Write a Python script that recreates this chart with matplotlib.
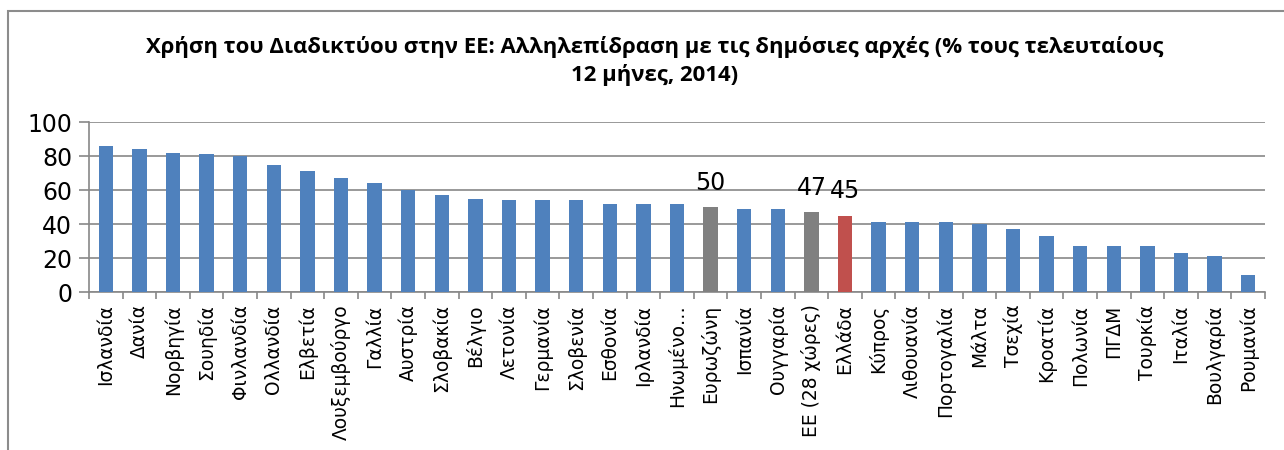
import numpy as np
import matplotlib
matplotlib.use("Agg")
import matplotlib.pyplot as plt
from matplotlib.patches import Rectangle
from matplotlib.ticker import FixedLocator

countries = [
    "Ισλανδία", "Δανία", "Νορβηγία", "Σουηδία", "Φινλανδία", "Ολλανδία",
    "Ελβετία", "Λουξεμβούργο", "Γαλλία", "Αυστρία", "Σλοβακία", "Βέλγιο",
    "Λετονία", "Γερμανία", "Σλοβενία", "Εσθονία", "Ιρλανδία", "Ηνωμένο…",
    "Ευρωζώνη", "Ισπανία", "Ουγγαρία", "ΕΕ (28 χώρες)", "Ελλάδα", "Κύπρος",
    "Λιθουανία", "Πορτογαλία", "Μάλτα", "Τσεχία", "Κροατία", "Πολωνία",
    "ΠΓΔΜ", "Τουρκία", "Ιταλία", "Βουλγαρία", "Ρουμανία",
]
values = [
    86, 84, 82, 81, 80, 75, 71, 67, 64, 60, 57, 55, 54, 54, 54, 52, 52, 52,
    50, 49, 49, 47, 45, 41, 41, 41, 40, 37, 33, 27, 27, 27, 23, 21, 10,
]
gray_bars = ["Ευρωζώνη", "ΕΕ (28 χώρες)"]
red_bars = ["Ελλάδα"]
labelled = ["Ευρωζώνη", "ΕΕ (28 χώρες)", "Ελλάδα"]

blue, gray, red = "#4F81BD", "#808080", "#C0504D"
grid_col = "#888888"

plt.rcParams["font.family"] = ["DejaVu Sans"]

fig = plt.figure(figsize=(12.84, 4.5), dpi=100)
ax = fig.add_axes([89 / 1284, 1 - 292 / 450, (1265 - 89) / 1284, 170 / 450])

# outer chart frame (cut at right and bottom like the screenshot)
fig.patches.append(Rectangle((8 / 1284, -0.1), 1.2, 1 - 11 / 450 + 0.1,
                             transform=fig.transFigure, fill=False,
                             edgecolor="#8c8c8c", linewidth=1.5))

x = np.arange(len(countries))
colors = [gray if c in gray_bars else red if c in red_bars else blue
          for c in countries]
ax.bar(x, values, width=0.43, color=colors, zorder=3)

for xi, c, v in zip(x, countries, values):
    if c in labelled:
        ax.annotate(str(v), (xi, v), xytext=(0, 9), textcoords="offset points",
                    ha="center", va="bottom", fontsize=17)

ax.set_xlim(-0.5, len(countries) - 0.5)
ax.set_ylim(0, 100)
ax.set_yticks([0, 20, 40, 60, 80, 100])
ax.tick_params(axis="y", labelsize=17, length=7, width=1.2, color=grid_col, pad=5)
ax.yaxis.grid(True, color=grid_col, linewidth=1.2, zorder=0)

ax.set_xticks(x)
ax.set_xticklabels(countries, rotation=90, fontsize=13.4)
ax.tick_params(axis="x", which="major", length=0, pad=9)
ax.xaxis.set_minor_locator(FixedLocator(np.arange(-0.5, len(countries), 1)))
ax.tick_params(axis="x", which="minor", length=5, width=1.2, color=grid_col)

for s in ["top", "right"]:
    ax.spines[s].set_visible(False)
for s in ["left", "bottom"]:
    ax.spines[s].set_color(grid_col)
    ax.spines[s].set_linewidth(1.2)

title_font = ["Liberation Sans Narrow", "Open Sans", "DejaVu Sans"]
fig.text(655 / 1284, 1 - 47 / 450,
         "Χρήση του Διαδικτύου στην ΕΕ: Αλληλεπίδραση με τις δημόσιες αρχές (% τους τελευταίους",
         ha="center", va="center", fontsize=15.9, fontweight="bold", family=title_font)
fig.text(655 / 1284, 1 - 75 / 450, "12 μήνες, 2014)",
         ha="center", va="center", fontsize=15.9, fontweight="bold", family=title_font)

fig.savefig("out.png", dpi=100)
